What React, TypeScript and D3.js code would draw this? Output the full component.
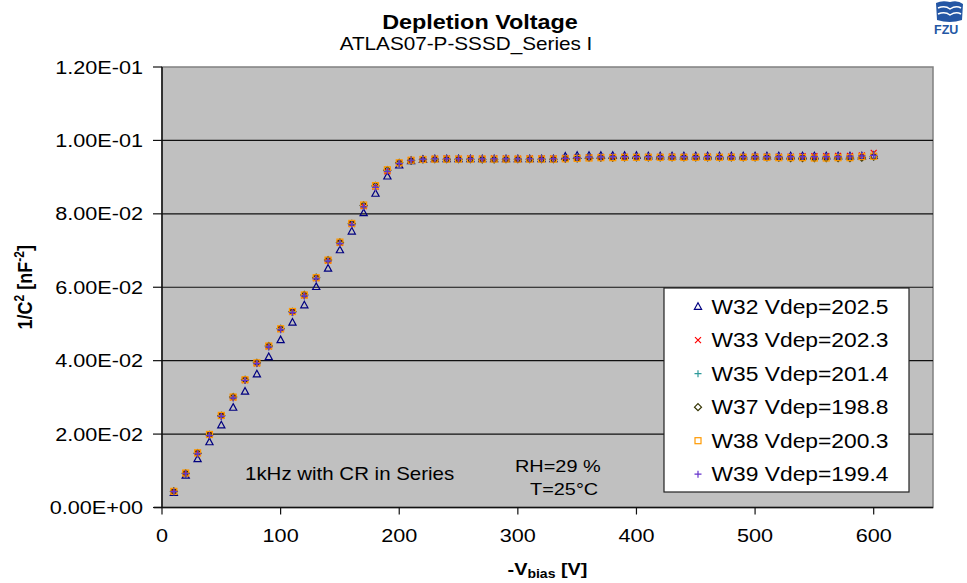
import React from 'react';
import * as d3 from 'd3';

// bias voltages, 10 V steps
const voltages = [
  10, 20, 30, 40, 50, 60, 70, 80, 90, 100,
  110, 120, 130, 140, 150, 160, 170, 180, 190, 200,
  210, 220, 230, 240, 250, 260, 270, 280, 290, 300,
  310, 320, 330, 340, 350, 360, 370, 380, 390, 400,
  410, 420, 430, 440, 450, 460, 470, 480, 490, 500,
  510, 520, 530, 540, 550, 560, 570, 580, 590, 600,
];

const w32 = [
  0.0040, 0.0087, 0.0132, 0.0178, 0.0224, 0.0272, 0.0316, 0.0363, 0.0410, 0.0456,
  0.0504, 0.0551, 0.0601, 0.0651, 0.0701, 0.0752, 0.0802, 0.0855, 0.0902, 0.0932,
  0.0944, 0.0947, 0.0949, 0.0949, 0.0949, 0.0949, 0.0949, 0.0949, 0.0949, 0.0949,
  0.0949, 0.0949, 0.0949, 0.0956, 0.0958, 0.0958, 0.0958, 0.0958, 0.0958, 0.0958,
  0.0957, 0.0957, 0.0957, 0.0957, 0.0957, 0.0957, 0.0957, 0.0957, 0.0957, 0.0957,
  0.0957, 0.0957, 0.0957, 0.0957, 0.0957, 0.0957, 0.0957, 0.0957, 0.0957, 0.0958,
];
const w33 = [
  0.0044, 0.0093, 0.0148, 0.0198, 0.0250, 0.0300, 0.0347, 0.0393, 0.0439, 0.0486,
  0.0533, 0.0578, 0.0625, 0.0673, 0.0721, 0.0772, 0.0821, 0.0874, 0.0916, 0.0938,
  0.0946, 0.0949, 0.0950, 0.0951, 0.0950, 0.0951, 0.0950, 0.0951, 0.0951, 0.0950,
  0.0951, 0.0951, 0.0951, 0.0952, 0.0953, 0.0954, 0.0955, 0.0955, 0.0955, 0.0955,
  0.0955, 0.0955, 0.0956, 0.0955, 0.0955, 0.0956, 0.0955, 0.0956, 0.0955, 0.0956,
  0.0956, 0.0956, 0.0956, 0.0957, 0.0957, 0.0957, 0.0958, 0.0958, 0.0959, 0.0966,
];
const w35 = [
  0.0043, 0.0092, 0.0147, 0.0197, 0.0249, 0.0299, 0.0346, 0.0392, 0.0438, 0.0485,
  0.0532, 0.0577, 0.0624, 0.0672, 0.0720, 0.0771, 0.0820, 0.0873, 0.0917, 0.0938,
  0.0946, 0.0948, 0.0949, 0.0950, 0.0950, 0.0950, 0.0950, 0.0950, 0.0950, 0.0950,
  0.0950, 0.0950, 0.0950, 0.0951, 0.0954, 0.0955, 0.0955, 0.0955, 0.0955, 0.0955,
  0.0955, 0.0955, 0.0955, 0.0955, 0.0955, 0.0955, 0.0955, 0.0955, 0.0955, 0.0955,
  0.0955, 0.0955, 0.0955, 0.0955, 0.0955, 0.0955, 0.0956, 0.0956, 0.0957, 0.0960,
];
const w37 = [
  0.0044, 0.0093, 0.0148, 0.0198, 0.0250, 0.0301, 0.0348, 0.0394, 0.0440, 0.0487,
  0.0533, 0.0579, 0.0626, 0.0674, 0.0722, 0.0773, 0.0823, 0.0876, 0.0919, 0.0939,
  0.0945, 0.0948, 0.0949, 0.0949, 0.0949, 0.0949, 0.0948, 0.0948, 0.0949, 0.0949,
  0.0949, 0.0949, 0.0949, 0.0950, 0.0951, 0.0953, 0.0953, 0.0953, 0.0954, 0.0954,
  0.0954, 0.0954, 0.0954, 0.0954, 0.0954, 0.0954, 0.0954, 0.0954, 0.0954, 0.0954,
  0.0954, 0.0953, 0.0952, 0.0952, 0.0952, 0.0952, 0.0952, 0.0952, 0.0953, 0.0956,
];
const w38 = [
  0.0044, 0.0094, 0.0149, 0.0199, 0.0251, 0.0301, 0.0348, 0.0394, 0.0440, 0.0487,
  0.0534, 0.0579, 0.0626, 0.0674, 0.0723, 0.0774, 0.0824, 0.0877, 0.0920, 0.0939,
  0.0946, 0.0948, 0.0949, 0.0949, 0.0949, 0.0949, 0.0949, 0.0949, 0.0949, 0.0949,
  0.0949, 0.0949, 0.0949, 0.0950, 0.0951, 0.0952, 0.0953, 0.0953, 0.0954, 0.0954,
  0.0954, 0.0954, 0.0954, 0.0954, 0.0954, 0.0954, 0.0954, 0.0954, 0.0954, 0.0954,
  0.0954, 0.0953, 0.0953, 0.0953, 0.0952, 0.0952, 0.0953, 0.0953, 0.0956, 0.0957,
];
const w39 = [
  0.0043, 0.0092, 0.0146, 0.0196, 0.0248, 0.0298, 0.0346, 0.0392, 0.0437, 0.0484,
  0.0531, 0.0576, 0.0623, 0.0671, 0.0719, 0.0770, 0.0819, 0.0872, 0.0915, 0.0937,
  0.0946, 0.0949, 0.0950, 0.0950, 0.0950, 0.0950, 0.0950, 0.0950, 0.0950, 0.0950,
  0.0950, 0.0950, 0.0950, 0.0951, 0.0953, 0.0955, 0.0955, 0.0956, 0.0956, 0.0956,
  0.0956, 0.0956, 0.0956, 0.0956, 0.0956, 0.0956, 0.0956, 0.0956, 0.0956, 0.0956,
  0.0956, 0.0956, 0.0956, 0.0956, 0.0956, 0.0956, 0.0956, 0.0957, 0.0958, 0.0959,
];

const seriesNames = [
  'W32 Vdep=202.5',
  'W33 Vdep=202.3',
  'W35 Vdep=201.4',
  'W37 Vdep=198.8',
  'W38 Vdep=200.3',
  'W39 Vdep=199.4',
];
const seriesValues = [w32, w33, w35, w37, w38, w39];
const markerKinds = ['tri', 'cross', 'plus', 'diamond', 'square', 'plus'];
const markerColors = ['#000080', '#ff0000', '#2e9a9a', '#333300', '#ff9900', '#6633cc'];

const xTicks = [0, 100, 200, 300, 400, 500, 600];
const yTicks = [0, 0.02, 0.04, 0.06, 0.08, 0.1, 0.12];
const yTickLabels = ['0.00E+00', '2.00E-02', '4.00E-02', '6.00E-02', '8.00E-02', '1.00E-01', '1.20E-01'];

const SX = 1.17; // the original picture is stretched sideways
const FONT = "'Liberation Sans', Arial, sans-serif";

const Txt = ({ x, y, size, anchor = 'start', weight = 'normal', fill = '#000', rotate = 0, children }: any) => (
  <g transform={`translate(${x},${y}) scale(${SX},1) rotate(${rotate})`}>
    <text x={0} y={0} fontSize={size} textAnchor={anchor} fontWeight={weight} fill={fill} fontFamily={FONT}>
      {children}
    </text>
  </g>
);

const Marker = ({ kind, color, cx, cy }: any) => {
  const sw = 1.2;
  if (kind === 'tri')
    return <path d={`M${cx},${cy - 4}L${cx + 3.6},${cy + 2.6}L${cx - 3.6},${cy + 2.6}Z`} fill="none" stroke={color} strokeWidth={sw} />;
  if (kind === 'cross')
    return <path d={`M${cx - 3},${cy - 3}L${cx + 3},${cy + 3}M${cx - 3},${cy + 3}L${cx + 3},${cy - 3}`} stroke={color} strokeWidth={sw} />;
  if (kind === 'plus')
    return <path d={`M${cx - 3.5},${cy}L${cx + 3.5},${cy}M${cx},${cy - 3.5}L${cx},${cy + 3.5}`} stroke={color} strokeWidth={sw} />;
  if (kind === 'diamond')
    return <path d={`M${cx},${cy - 3.5}L${cx + 3.5},${cy}L${cx},${cy + 3.5}L${cx - 3.5},${cy}Z`} fill="none" stroke={color} strokeWidth={sw} />;
  return <rect x={cx - 3} y={cy - 3} width={6} height={6} fill="none" stroke={color} strokeWidth={sw} />;
};

export default function App() {
  const left = 162, right = 933, top = 67, bottom = 507.5;
  const x = d3.scaleLinear().domain([0, 650]).range([left, right]);
  const y = d3.scaleLinear().domain([0, 0.12]).range([bottom, top]);

  const legX = 664, legY = 288, legW = 245, legH = 204;

  return (
    <svg width={967} height={583} style={{ position: 'absolute', left: 0, top: 0, background: '#fff' }}>
      {/* logo */}
      <g>
        <path d="M936,3 Q942,0 950,2 Q958,0 963,4 L962,20 Q950,24 937,20 Z" fill="#2456a4" />
        <path d="M938,8 Q945,5 950,9 Q956,5 961,8 M938,14 Q945,11 950,15 Q956,11 961,14" stroke="#fff" strokeWidth={1.5} fill="none" />
        <text x={934} y={34} fontSize={12.5} fontWeight="bold" fill="#2456a4" fontFamily={FONT}>FZU</text>
      </g>

      {/* plot area */}
      <rect x={left} y={top} width={right - left} height={bottom - top} fill="#c0c0c0" stroke="#808080" strokeWidth={1.5} />
      {yTicks.slice(1, -1).map(t => (
        <line key={t} x1={left} x2={right} y1={y(t)} y2={y(t)} stroke="#111" strokeWidth={1.2} />
      ))}
      <line x1={left} x2={left} y1={top} y2={bottom} stroke="#111" strokeWidth={1.5} />
      <line x1={left - 8} x2={right} y1={bottom} y2={bottom} stroke="#111" strokeWidth={1.5} />

      {/* y axis */}
      {yTicks.map((t, i) => (
        <g key={t}>
          <line x1={left - 9} x2={left} y1={y(t)} y2={y(t)} stroke="#111" strokeWidth={1.2} />
          <Txt x={143} y={y(t) + 6.5} size={18.5} anchor="end">{yTickLabels[i]}</Txt>
        </g>
      ))}
      {/* x axis */}
      {xTicks.map(t => (
        <g key={t}>
          <line x1={x(t)} x2={x(t)} y1={bottom} y2={bottom + 7} stroke="#111" strokeWidth={1.2} />
          <Txt x={x(t)} y={542} size={18.5} anchor="middle">{String(t)}</Txt>
        </g>
      ))}

      {/* series */}
      {seriesValues.map((vals, s) => (
        <g key={seriesNames[s]}>
          {vals.map((v, i) => (
            <Marker key={i} kind={markerKinds[s]} color={markerColors[s]} cx={x(voltages[i])} cy={y(v)} />
          ))}
        </g>
      ))}

      {/* titles */}
      <Txt x={480} y={29} size={20} anchor="middle" weight="bold">Depletion Voltage</Txt>
      <Txt x={466} y={50} size={17.7} anchor="middle">ATLAS07-P-SSSD_Series I</Txt>
      <Txt x={(left + right) / 2} y={575} size={17} anchor="middle" weight="bold">
        -V<tspan fontSize={12} dy={3}>bias</tspan><tspan dy={-3}> [V]</tspan>
      </Txt>
      <Txt x={32} y={(top + bottom) / 2} size={18} anchor="middle" weight="bold" rotate={-90}>
        1/C<tspan fontSize={12} dy={-7}>2</tspan><tspan dy={7}> [nF</tspan><tspan fontSize={12} dy={-7}>-2</tspan><tspan dy={7}>]</tspan>
      </Txt>

      {/* annotations */}
      <Txt x={245} y={480} size={17.5}>1kHz with CR in Series</Txt>
      <Txt x={515} y={472} size={17}>RH=29 %</Txt>
      <Txt x={530} y={495} size={17}>T=25°C</Txt>

      {/* legend */}
      <rect x={legX} y={legY} width={legW} height={legH} fill="#fff" stroke="#222" strokeWidth={1.2} />
      {seriesNames.map((name, i) => {
        const cy = 306.7 + i * 33.5;
        return (
          <g key={name}>
            <Marker kind={markerKinds[i]} color={markerColors[i]} cx={698} cy={cy} />
            <Txt x={711.5} y={cy + 7} size={19.5}>{name}</Txt>
          </g>
        );
      })}
    </svg>
  );
}
